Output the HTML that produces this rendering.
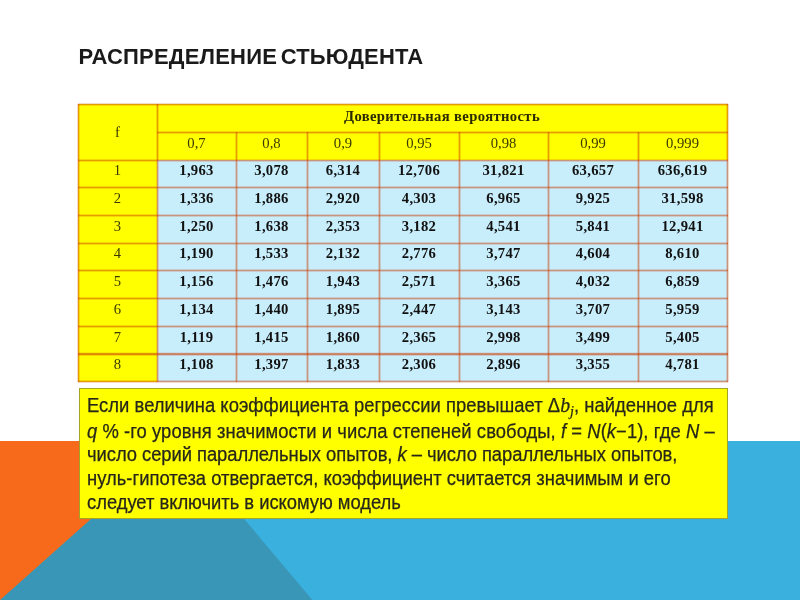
<!DOCTYPE html>
<html lang="ru">
<head>
<meta charset="utf-8">
<title>Распределение Стьюдента</title>
<style>
html,body{margin:0;padding:0;}
body{width:800px;height:600px;position:relative;overflow:hidden;background:#fff;font-family:"Liberation Sans",sans-serif;}
#stage{position:absolute;left:0;top:0;width:800px;height:600px;}
.bg{position:absolute;left:0;top:0;overflow:visible;}
h1{position:absolute;left:78.5px;top:42px;margin:0;font:bold 22px/30px "Liberation Sans",sans-serif;color:#1a1a1a;white-space:nowrap;letter-spacing:0.2px;word-spacing:-2.7px;}
.c{position:absolute;box-sizing:border-box;text-align:center;font:14.67px "Liberation Serif",serif;white-space:nowrap;overflow:hidden;}
.h{background:#ffff00;color:#3a3a00;}
.d{background:#c8eefc;color:#111;font-weight:bold;letter-spacing:0.3px;}
.t{font-weight:bold;color:#2a2a00;letter-spacing:0.36px;}
.v{position:absolute;width:3px;background:linear-gradient(90deg,rgba(203,60,0,.2) 0 1px,rgba(203,60,0,.5) 1px 2px,rgba(203,60,0,.2) 2px 3px);}
.hl{position:absolute;height:3px;background:linear-gradient(180deg,rgba(203,60,0,.2) 0 1px,rgba(203,60,0,.5) 1px 2px,rgba(203,60,0,.2) 2px 3px);}
.thick{height:4px;background:linear-gradient(180deg,rgba(203,60,0,.1) 0 1px,rgba(203,60,0,.55) 1px 2px,rgba(203,60,0,.62) 2px 3px,rgba(203,60,0,.2) 3px 4px);}
.note{position:absolute;left:79px;top:388px;width:649px;height:131px;box-sizing:border-box;background:#ffff00;border:1px solid #a3a324;}
.note p{position:absolute;left:7px;top:0;margin:0;white-space:nowrap;font:19.5px/24px "Liberation Sans",sans-serif;color:#26261a;-webkit-text-stroke:0.25px #26261a;transform:scaleX(0.9436);transform-origin:0 0;}
.note i{font-style:italic;}
.note i.m{font-family:"Liberation Serif",serif;font-size:21px;line-height:0;}
.note sub{font-size:15px;vertical-align:-4px;line-height:0;}
</style>
</head>
<body>
<div id="stage">
<svg class="bg" width="800" height="600" viewBox="0 0 800 600">
<rect x="-20" y="441" width="200" height="179" fill="#f76a1c"/>
<rect x="178.5" y="441" width="641.5" height="179" fill="#3ab0df"/>
<polygon points="178.5,441 -22.4,620 329.2,620" fill="#3a96b6"/>
</svg>
<h1>РАСПРЕДЕЛЕНИЕ СТЬЮДЕНТА</h1>
<div class="c h f" style="left:78px;top:104px;width:79px;height:56px;line-height:57px">f</div>
<div class="c h t" style="left:157px;top:104px;width:571px;height:28px;line-height:24px;padding-right:1px">Доверительная вероятность</div>
<div class="c h" style="left:157px;top:132px;width:79px;height:28px;line-height:22px">0,7</div>
<div class="c h" style="left:236px;top:132px;width:71px;height:28px;line-height:22px">0,8</div>
<div class="c h" style="left:307px;top:132px;width:72px;height:28px;line-height:22px">0,9</div>
<div class="c h" style="left:379px;top:132px;width:80px;height:28px;line-height:22px">0,95</div>
<div class="c h" style="left:459px;top:132px;width:89px;height:28px;line-height:22px">0,98</div>
<div class="c h" style="left:548px;top:132px;width:90px;height:28px;line-height:22px">0,99</div>
<div class="c h" style="left:638px;top:132px;width:90px;height:28px;line-height:22px;padding-right:1px">0,999</div>
<div class="c h" style="left:78px;top:160px;width:79px;height:27px;line-height:21px">1</div>
<div class="c d" style="left:157px;top:160px;width:79px;height:27px;line-height:21px">1,963</div>
<div class="c d" style="left:236px;top:160px;width:71px;height:27px;line-height:21px">3,078</div>
<div class="c d" style="left:307px;top:160px;width:72px;height:27px;line-height:21px">6,314</div>
<div class="c d" style="left:379px;top:160px;width:80px;height:27px;line-height:21px">12,706</div>
<div class="c d" style="left:459px;top:160px;width:89px;height:27px;line-height:21px">31,821</div>
<div class="c d" style="left:548px;top:160px;width:90px;height:27px;line-height:21px">63,657</div>
<div class="c d" style="left:638px;top:160px;width:90px;height:27px;line-height:21px;padding-right:1px">636,619</div>
<div class="c h" style="left:78px;top:187px;width:79px;height:28px;line-height:22px">2</div>
<div class="c d" style="left:157px;top:187px;width:79px;height:28px;line-height:22px">1,336</div>
<div class="c d" style="left:236px;top:187px;width:71px;height:28px;line-height:22px">1,886</div>
<div class="c d" style="left:307px;top:187px;width:72px;height:28px;line-height:22px">2,920</div>
<div class="c d" style="left:379px;top:187px;width:80px;height:28px;line-height:22px">4,303</div>
<div class="c d" style="left:459px;top:187px;width:89px;height:28px;line-height:22px">6,965</div>
<div class="c d" style="left:548px;top:187px;width:90px;height:28px;line-height:22px">9,925</div>
<div class="c d" style="left:638px;top:187px;width:90px;height:28px;line-height:22px;padding-right:1px">31,598</div>
<div class="c h" style="left:78px;top:215px;width:79px;height:28px;line-height:22px">3</div>
<div class="c d" style="left:157px;top:215px;width:79px;height:28px;line-height:22px">1,250</div>
<div class="c d" style="left:236px;top:215px;width:71px;height:28px;line-height:22px">1,638</div>
<div class="c d" style="left:307px;top:215px;width:72px;height:28px;line-height:22px">2,353</div>
<div class="c d" style="left:379px;top:215px;width:80px;height:28px;line-height:22px">3,182</div>
<div class="c d" style="left:459px;top:215px;width:89px;height:28px;line-height:22px">4,541</div>
<div class="c d" style="left:548px;top:215px;width:90px;height:28px;line-height:22px">5,841</div>
<div class="c d" style="left:638px;top:215px;width:90px;height:28px;line-height:22px;padding-right:1px">12,941</div>
<div class="c h" style="left:78px;top:243px;width:79px;height:27px;line-height:21px">4</div>
<div class="c d" style="left:157px;top:243px;width:79px;height:27px;line-height:21px">1,190</div>
<div class="c d" style="left:236px;top:243px;width:71px;height:27px;line-height:21px">1,533</div>
<div class="c d" style="left:307px;top:243px;width:72px;height:27px;line-height:21px">2,132</div>
<div class="c d" style="left:379px;top:243px;width:80px;height:27px;line-height:21px">2,776</div>
<div class="c d" style="left:459px;top:243px;width:89px;height:27px;line-height:21px">3,747</div>
<div class="c d" style="left:548px;top:243px;width:90px;height:27px;line-height:21px">4,604</div>
<div class="c d" style="left:638px;top:243px;width:90px;height:27px;line-height:21px;padding-right:1px">8,610</div>
<div class="c h" style="left:78px;top:270px;width:79px;height:28px;line-height:22px">5</div>
<div class="c d" style="left:157px;top:270px;width:79px;height:28px;line-height:22px">1,156</div>
<div class="c d" style="left:236px;top:270px;width:71px;height:28px;line-height:22px">1,476</div>
<div class="c d" style="left:307px;top:270px;width:72px;height:28px;line-height:22px">1,943</div>
<div class="c d" style="left:379px;top:270px;width:80px;height:28px;line-height:22px">2,571</div>
<div class="c d" style="left:459px;top:270px;width:89px;height:28px;line-height:22px">3,365</div>
<div class="c d" style="left:548px;top:270px;width:90px;height:28px;line-height:22px">4,032</div>
<div class="c d" style="left:638px;top:270px;width:90px;height:28px;line-height:22px;padding-right:1px">6,859</div>
<div class="c h" style="left:78px;top:298px;width:79px;height:28px;line-height:22px">6</div>
<div class="c d" style="left:157px;top:298px;width:79px;height:28px;line-height:22px">1,134</div>
<div class="c d" style="left:236px;top:298px;width:71px;height:28px;line-height:22px">1,440</div>
<div class="c d" style="left:307px;top:298px;width:72px;height:28px;line-height:22px">1,895</div>
<div class="c d" style="left:379px;top:298px;width:80px;height:28px;line-height:22px">2,447</div>
<div class="c d" style="left:459px;top:298px;width:89px;height:28px;line-height:22px">3,143</div>
<div class="c d" style="left:548px;top:298px;width:90px;height:28px;line-height:22px">3,707</div>
<div class="c d" style="left:638px;top:298px;width:90px;height:28px;line-height:22px;padding-right:1px">5,959</div>
<div class="c h" style="left:78px;top:326px;width:79px;height:28px;line-height:22px">7</div>
<div class="c d" style="left:157px;top:326px;width:79px;height:28px;line-height:22px">1,119</div>
<div class="c d" style="left:236px;top:326px;width:71px;height:28px;line-height:22px">1,415</div>
<div class="c d" style="left:307px;top:326px;width:72px;height:28px;line-height:22px">1,860</div>
<div class="c d" style="left:379px;top:326px;width:80px;height:28px;line-height:22px">2,365</div>
<div class="c d" style="left:459px;top:326px;width:89px;height:28px;line-height:22px">2,998</div>
<div class="c d" style="left:548px;top:326px;width:90px;height:28px;line-height:22px">3,499</div>
<div class="c d" style="left:638px;top:326px;width:90px;height:28px;line-height:22px;padding-right:1px">5,405</div>
<div class="c h" style="left:78px;top:354px;width:79px;height:28px;line-height:21px">8</div>
<div class="c d" style="left:157px;top:354px;width:79px;height:28px;line-height:21px">1,108</div>
<div class="c d" style="left:236px;top:354px;width:71px;height:28px;line-height:21px">1,397</div>
<div class="c d" style="left:307px;top:354px;width:72px;height:28px;line-height:21px">1,833</div>
<div class="c d" style="left:379px;top:354px;width:80px;height:28px;line-height:21px">2,306</div>
<div class="c d" style="left:459px;top:354px;width:89px;height:28px;line-height:21px">2,896</div>
<div class="c d" style="left:548px;top:354px;width:90px;height:28px;line-height:21px">3,355</div>
<div class="c d" style="left:638px;top:354px;width:90px;height:28px;line-height:21px;padding-right:1px">4,781</div>
<div class="v" style="left:77px;top:104px;height:278px"></div>
<div class="v" style="left:156px;top:104px;height:278px"></div>
<div class="v" style="left:235px;top:132px;height:250px"></div>
<div class="v" style="left:306px;top:132px;height:250px"></div>
<div class="v" style="left:378px;top:132px;height:250px"></div>
<div class="v" style="left:458px;top:132px;height:250px"></div>
<div class="v" style="left:547px;top:132px;height:250px"></div>
<div class="v" style="left:637px;top:132px;height:250px"></div>
<div class="v" style="left:726px;top:104px;height:278px"></div>
<div class="hl" style="left:78px;top:103px;width:650px"></div>
<div class="hl" style="left:157px;top:131px;width:571px"></div>
<div class="hl" style="left:78px;top:159px;width:650px"></div>
<div class="hl" style="left:78px;top:186px;width:650px"></div>
<div class="hl" style="left:78px;top:214px;width:650px"></div>
<div class="hl" style="left:78px;top:242px;width:650px"></div>
<div class="hl" style="left:78px;top:269px;width:650px"></div>
<div class="hl" style="left:78px;top:297px;width:650px"></div>
<div class="hl" style="left:78px;top:325px;width:650px"></div>
<div class="hl thick" style="left:78px;top:352px;width:650px"></div>
<div class="hl" style="left:78px;top:380px;width:650px"></div><div class="note">
<p style="top:4px;letter-spacing:0.03px">Если величина коэффициента регрессии превышает Δ<i class="m">b<sub>j</sub></i>, найденное для</p>
<p style="top:29.5px;letter-spacing:0.06px"><i>q</i> % -го уровня значимости и числа степеней свободы, <i>f</i> = <i>N</i>(<i>k</i>−1), где <i>N</i> –</p>
<p style="top:53px;letter-spacing:-0.06px">число серий параллельных опытов, <i>k</i> – число параллельных опытов,</p>
<p style="top:77px;letter-spacing:0.014px">нуль-гипотеза отвергается, коэффициент считается значимым и его</p>
<p style="top:101px;letter-spacing:-0.03px">следует включить в искомую модель</p>
</div>
</div>
</body>
</html>
